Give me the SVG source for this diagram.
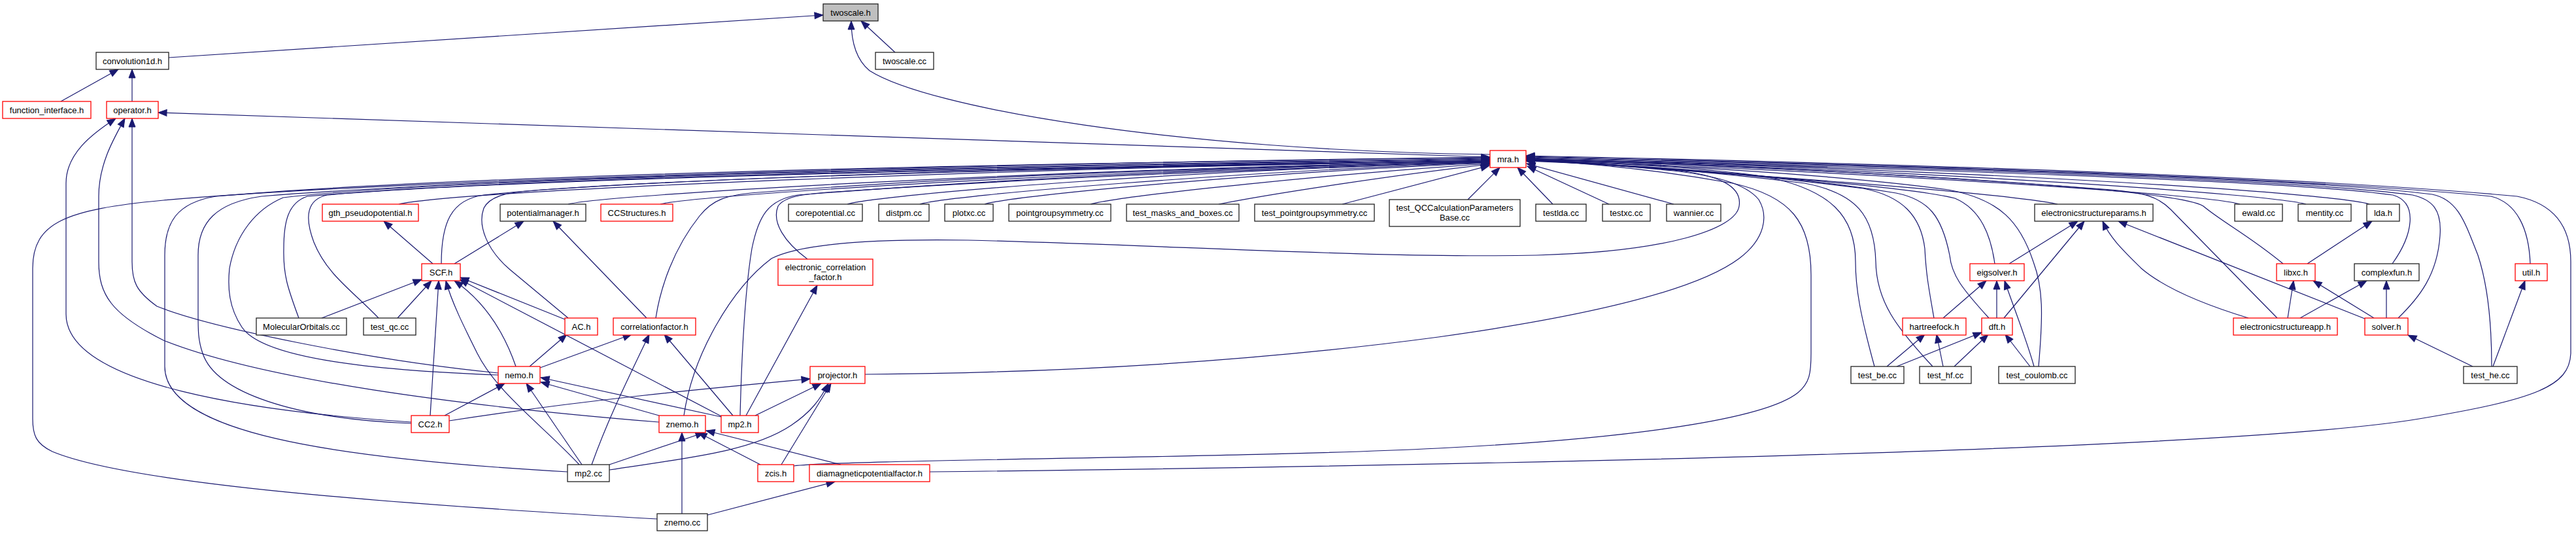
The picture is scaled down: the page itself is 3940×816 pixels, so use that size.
<svg xmlns="http://www.w3.org/2000/svg" width="3940" height="816" viewBox="0 0 3940 816">
<defs>
<marker id="ah" markerUnits="userSpaceOnUse" markerWidth="15" markerHeight="12" refX="13" refY="5" orient="auto" overflow="visible">
<path d="M0,0 L13,5 L0,10 z" fill="#191970" stroke="#191970" stroke-width="1"/>
</marker>
<style>
.node rect{fill:#ffffff;stroke-width:1.3}
.red rect{stroke:#ff0000}
.blk rect{stroke:#222222}
.focus rect{fill:#bfbfbf;stroke:#222222}
.node text{font-family:"Liberation Sans",Arial,sans-serif;font-size:13px;fill:#000000;text-anchor:middle}
#edges path{fill:none;stroke:#191970;stroke-width:1.2;marker-end:url(#ah)}
</style>
</defs>
<rect x="0" y="0" width="3940" height="816" fill="#ffffff"/>
<g id="edges">
<path d="M258,88 L1259,23"/>
<path d="M1369,80 L1317,32"/>
<path d="M2279,236 C1800,230 1420,165 1330,108 C1308,90 1302,60 1302,32"/>
<path d="M93,155 L181,106"/>
<path d="M202,155 L202,106"/>
<path d="M2279,240 C1700,222 700,186 242,172"/>
<path d="M629,645 C400,630 101,590 101,480 L101,280 C101,235 140,205 177,181"/>
<path d="M1008,645 C700,620 400,580 250,520 C170,480 151,450 151,400 L151,300 C151,250 175,210 191,181"/>
<path d="M762,570 C560,550 320,500 240,468 C208,445 202,430 202,400 L202,181"/>
<path d="M1005,793 C600,770 200,740 80,690 C55,678 50,665 50,640 L50,410 C50,340 100,320 250,306 C600,275 1500,250 2279,240"/>
<path d="M868,721 C500,700 252,660 252,560 L252,390 C252,340 270,310 330,300 C700,268 1500,250 2279,241"/>
<path d="M629,647 C450,640 330,600 310,540 C303,520 303,505 303,480 L303,390 C303,340 330,310 400,300 C800,268 1600,252 2279,242"/>
<path d="M762,573 C550,565 400,545 370,500 C350,470 348,440 351,410 C360,360 390,320 433,302 C700,270 1600,253 2279,243"/>
<path d="M457,486 C440,440 433,420 434,380 C434,340 440,310 470,300 C800,270 1600,255 2279,244"/>
<path d="M579,486 C540,445 500,420 480,370 C465,330 470,305 500,298 C800,272 1600,256 2279,245"/>
<path d="M610,312 C700,290 1600,255 2279,246"/>
<path d="M675,403 C675,340 690,305 740,298 C1000,270 1700,255 2279,246"/>
<path d="M662,403 L587,338"/>
<path d="M695,403 L801,338"/>
<path d="M869,312 C920,298 1600,258 2279,247"/>
<path d="M1010,312 C1060,298 1700,258 2279,247"/>
<path d="M1296,312 C1340,298 1800,260 2279,248"/>
<path d="M1407,312 C1450,298 1900,262 2279,248"/>
<path d="M1506,312 C1550,298 1950,262 2279,249"/>
<path d="M1668,312 C1720,298 2050,265 2279,250"/>
<path d="M1864,312 C1950,295 2150,265 2279,251"/>
<path d="M2053,312 L2278,253"/>
<path d="M2245,305 L2294,256"/>
<path d="M2375,312 L2321,256"/>
<path d="M2461,312 L2336,254"/>
<path d="M2560,312 L2335,250"/>
<path d="M3147,312 C3050,292 2600,262 2334,244"/>
<path d="M3426,312 C3380,298 2900,265 2334,244"/>
<path d="M3527,312 C3480,298 3000,262 2334,243"/>
<path d="M3624,312 C3580,297 3100,262 2334,243"/>
<path d="M3492,403 C3440,360 3400,340 3370,315 C3330,290 2900,262 2334,243"/>
<path d="M3659,403 C3690,360 3700,310 3660,298 C3500,275 2900,258 2334,242"/>
<path d="M3668,486 C3700,455 3728,420 3732,360 C3735,320 3720,305 3690,298 C3500,272 2900,256 2334,241"/>
<path d="M3811,560 C3811,470 3800,420 3790,390 C3770,340 3760,305 3720,297 C3500,270 2900,254 2334,240"/>
<path d="M3870,403 C3868,350 3850,310 3810,300 C3500,270 2900,252 2334,239"/>
<path d="M1422,721 C2200,712 3400,690 3700,640 C3880,610 3930,590 3932,540 L3932,400 C3932,340 3900,310 3850,300 C3500,268 2900,250 2334,238"/>
<path d="M3483,486 L3320,320 C3300,300 3280,295 3230,290 C2900,265 2600,250 2334,244"/>
<path d="M2867,560 C2845,480 2838,440 2838,400 C2838,330 2800,290 2700,270 C2600,255 2450,248 2334,246"/>
<path d="M2956,560 C2900,500 2870,460 2869,400 C2867,330 2840,295 2760,280 C2600,260 2450,250 2334,246"/>
<path d="M2958,486 C2950,440 2946,420 2944,380 C2938,330 2910,300 2850,288 C2650,262 2450,250 2334,245"/>
<path d="M3042,486 C3000,440 2985,420 2982,390 C2970,330 2950,305 2900,295 C2700,262 2450,250 2334,245"/>
<path d="M3051,403 C3045,360 3030,320 2990,303 C2900,280 2500,255 2334,244"/>
<path d="M3118,560 C3125,480 3125,440 3110,400 C3090,340 3060,305 2980,290 C2800,265 2500,250 2334,244"/>
<path d="M1214,712 C1300,702 1900,700 2200,685 C2500,670 2700,640 2750,600 C2768,585 2770,570 2770,540 L2770,420 C2770,340 2740,300 2650,280 C2550,262 2450,250 2334,245"/>
<path d="M1046,635 C1060,540 1120,440 1180,395 C1230,370 1350,365 1480,367 C1800,375 2100,395 2350,390 C2550,385 2655,350 2660,315 C2665,285 2630,267 2560,260 C2480,252 2400,247 2334,243"/>
<path d="M1323,572 C1600,570 1900,555 2200,515 C2450,480 2600,440 2660,395 C2700,365 2705,330 2690,305 C2670,280 2620,268 2560,261 C2480,253 2400,247 2334,242"/>
<path d="M989,486 L846,338"/>
<path d="M869,486 L780,412 C745,382 730,345 740,318 C750,298 780,293 830,290 C1200,265 1800,252 2279,246"/>
<path d="M1003,486 C1010,440 1030,380 1070,330 C1090,305 1110,298 1160,294 C1500,268 1900,254 2279,247"/>
<path d="M1132,635 C1135,520 1140,440 1150,380 C1160,330 1175,305 1220,298 C1600,268 1950,255 2279,248"/>
<path d="M1235,396 C1200,370 1180,340 1190,315 C1200,300 1230,296 1280,293 C1650,268 2000,256 2279,248"/>
<path d="M1141,635 L1250,436"/>
<path d="M492,486 L645,427"/>
<path d="M608,486 L660,429"/>
<path d="M658,635 L671,429"/>
<path d="M886,710 C830,650 760,600 730,540 C710,500 690,460 682,429"/>
<path d="M789,560 C770,505 740,460 695,429"/>
<path d="M864,488 L704,424"/>
<path d="M1103,636 L703,427"/>
<path d="M810,560 L867,511"/>
<path d="M826,562 L966,511"/>
<path d="M905,710 C930,640 960,580 993,511"/>
<path d="M1121,635 L1016,511"/>
<path d="M680,635 L772,586"/>
<path d="M890,710 L805,586"/>
<path d="M1008,635 L827,584"/>
<path d="M1103,637 L827,577"/>
<path d="M687,643 C900,610 1100,592 1239,579"/>
<path d="M1155,635 L1256,586"/>
<path d="M932,718 C1050,700 1150,690 1210,650 C1240,630 1255,610 1267,586"/>
<path d="M1195,710 L1271,586"/>
<path d="M932,710 L1077,661"/>
<path d="M1163,710 L1068,661"/>
<path d="M1286,710 L1080,658"/>
<path d="M1043,785 L1043,661"/>
<path d="M1082,787 L1277,736"/>
<path d="M3529,403 L3628,338"/>
<path d="M3499,486 L3508,429"/>
<path d="M3631,486 L3538,429"/>
<path d="M3518,486 L3620,429"/>
<path d="M3650,486 L3650,429"/>
<path d="M3782,560 L3683,512"/>
<path d="M3813,560 L3862,429"/>
<path d="M3073,403 L3178,338"/>
<path d="M3065,486 L3188,338"/>
<path d="M3439,486 C3370,465 3310,440 3275,410 C3250,385 3228,365 3216,338"/>
<path d="M3617,487 L3240,338"/>
<path d="M2972,486 L3038,429"/>
<path d="M3054,486 L3054,429"/>
<path d="M3111,560 C3100,520 3080,470 3066,429"/>
<path d="M2886,560 L2944,511"/>
<path d="M2972,560 L2962,511"/>
<path d="M2901,560 L3031,508"/>
<path d="M2989,560 L3041,511"/>
<path d="M3105,560 L3067,511"/>
</g>
<g id="n_twoscale_h" class="node focus"><rect x="1259" y="6" width="84" height="26"/><text x="1301" y="23.5">twoscale.h</text></g>
<g id="n_convolution1d_h" class="node blk"><rect x="147" y="80" width="111" height="26"/><text x="202.5" y="97.5">convolution1d.h</text></g>
<g id="n_twoscale_cc" class="node blk"><rect x="1339" y="80" width="89" height="26"/><text x="1383.5" y="97.5">twoscale.cc</text></g>
<g id="n_function_interface_h" class="node red"><rect x="4" y="155" width="135" height="26"/><text x="71.5" y="172.5">function_interface.h</text></g>
<g id="n_operator_h" class="node red"><rect x="163" y="155" width="79" height="26"/><text x="202.5" y="172.5">operator.h</text></g>
<g id="n_mra_h" class="node red"><rect x="2279" y="230" width="55" height="26"/><text x="2306.5" y="247.5">mra.h</text></g>
<g id="n_gth_pseudopotential_h" class="node red"><rect x="493" y="312" width="147" height="26"/><text x="566.5" y="329.5">gth_pseudopotential.h</text></g>
<g id="n_potentialmanager_h" class="node blk"><rect x="765" y="312" width="131" height="26"/><text x="830.5" y="329.5">potentialmanager.h</text></g>
<g id="n_CCStructures_h" class="node red"><rect x="919" y="312" width="110" height="26"/><text x="974" y="329.5">CCStructures.h</text></g>
<g id="n_corepotential_cc" class="node blk"><rect x="1206" y="312" width="113" height="26"/><text x="1262.5" y="329.5">corepotential.cc</text></g>
<g id="n_distpm_cc" class="node blk"><rect x="1344" y="312" width="77" height="26"/><text x="1382.5" y="329.5">distpm.cc</text></g>
<g id="n_plotxc_cc" class="node blk"><rect x="1445" y="312" width="74" height="26"/><text x="1482" y="329.5">plotxc.cc</text></g>
<g id="n_pointgroupsymmetry_cc" class="node blk"><rect x="1543" y="312" width="156" height="26"/><text x="1621" y="329.5">pointgroupsymmetry.cc</text></g>
<g id="n_test_masks_and_boxes_cc" class="node blk"><rect x="1723" y="312" width="172" height="26"/><text x="1809" y="329.5">test_masks_and_boxes.cc</text></g>
<g id="n_test_pointgroupsymmetry_cc" class="node blk"><rect x="1919" y="312" width="183" height="26"/><text x="2010.5" y="329.5">test_pointgroupsymmetry.cc</text></g>
<g id="n_test_QCCalculationParametersBase_cc" class="node blk"><rect x="2125" y="305" width="200" height="41"/><text x="2225" y="321.5">test_QCCalculationParameters</text><text x="2225" y="336.5">Base.cc</text></g>
<g id="n_testlda_cc" class="node blk"><rect x="2349" y="312" width="77" height="26"/><text x="2387.5" y="329.5">testlda.cc</text></g>
<g id="n_testxc_cc" class="node blk"><rect x="2451" y="312" width="73" height="26"/><text x="2487.5" y="329.5">testxc.cc</text></g>
<g id="n_wannier_cc" class="node blk"><rect x="2549" y="312" width="83" height="26"/><text x="2590.5" y="329.5">wannier.cc</text></g>
<g id="n_electronicstructureparams_h" class="node blk"><rect x="3112" y="312" width="181" height="26"/><text x="3202.5" y="329.5">electronicstructureparams.h</text></g>
<g id="n_ewald_cc" class="node blk"><rect x="3418" y="312" width="73" height="26"/><text x="3454.5" y="329.5">ewald.cc</text></g>
<g id="n_mentity_cc" class="node blk"><rect x="3515" y="312" width="81" height="26"/><text x="3555.5" y="329.5">mentity.cc</text></g>
<g id="n_lda_h" class="node blk"><rect x="3620" y="312" width="50" height="26"/><text x="3645" y="329.5">lda.h</text></g>
<g id="n_SCF_h" class="node red"><rect x="645" y="403" width="59" height="26"/><text x="674.5" y="420.5">SCF.h</text></g>
<g id="n_electronic_correlation_factor_h" class="node red"><rect x="1190" y="396" width="145" height="40"/><text x="1262.5" y="413">electronic_correlation</text><text x="1262.5" y="428">_factor.h</text></g>
<g id="n_eigsolver_h" class="node red"><rect x="3013" y="403" width="83" height="26"/><text x="3054.5" y="420.5">eigsolver.h</text></g>
<g id="n_libxc_h" class="node red"><rect x="3482" y="403" width="59" height="26"/><text x="3511.5" y="420.5">libxc.h</text></g>
<g id="n_complexfun_h" class="node blk"><rect x="3601" y="403" width="99" height="26"/><text x="3650.5" y="420.5">complexfun.h</text></g>
<g id="n_util_h" class="node red"><rect x="3847" y="403" width="49" height="26"/><text x="3871.5" y="420.5">util.h</text></g>
<g id="n_MolecularOrbitals_cc" class="node blk"><rect x="392" y="486" width="138" height="26"/><text x="461" y="503.5">MolecularOrbitals.cc</text></g>
<g id="n_test_qc_cc" class="node blk"><rect x="556" y="486" width="80" height="26"/><text x="596" y="503.5">test_qc.cc</text></g>
<g id="n_AC_h" class="node red"><rect x="864" y="486" width="50" height="26"/><text x="889" y="503.5">AC.h</text></g>
<g id="n_correlationfactor_h" class="node red"><rect x="938" y="486" width="126" height="26"/><text x="1001" y="503.5">correlationfactor.h</text></g>
<g id="n_hartreefock_h" class="node red"><rect x="2910" y="486" width="97" height="26"/><text x="2958.5" y="503.5">hartreefock.h</text></g>
<g id="n_dft_h" class="node red"><rect x="3031" y="486" width="47" height="26"/><text x="3054.5" y="503.5">dft.h</text></g>
<g id="n_electronicstructureapp_h" class="node red"><rect x="3416" y="486" width="159" height="26"/><text x="3495.5" y="503.5">electronicstructureapp.h</text></g>
<g id="n_solver_h" class="node red"><rect x="3617" y="486" width="66" height="26"/><text x="3650" y="503.5">solver.h</text></g>
<g id="n_nemo_h" class="node red"><rect x="762" y="560" width="64" height="26"/><text x="794" y="577.5">nemo.h</text></g>
<g id="n_projector_h" class="node red"><rect x="1239" y="560" width="84" height="26"/><text x="1281" y="577.5">projector.h</text></g>
<g id="n_test_be_cc" class="node blk"><rect x="2831" y="560" width="81" height="26"/><text x="2871.5" y="577.5">test_be.cc</text></g>
<g id="n_test_hf_cc" class="node blk"><rect x="2936" y="560" width="79" height="26"/><text x="2975.5" y="577.5">test_hf.cc</text></g>
<g id="n_test_coulomb_cc" class="node blk"><rect x="3057" y="560" width="117" height="26"/><text x="3115.5" y="577.5">test_coulomb.cc</text></g>
<g id="n_test_he_cc" class="node blk"><rect x="3768" y="560" width="82" height="26"/><text x="3809" y="577.5">test_he.cc</text></g>
<g id="n_CC2_h" class="node red"><rect x="629" y="635" width="58" height="26"/><text x="658" y="652.5">CC2.h</text></g>
<g id="n_znemo_h" class="node red"><rect x="1008" y="635" width="71" height="26"/><text x="1043.5" y="652.5">znemo.h</text></g>
<g id="n_mp2_h" class="node red"><rect x="1103" y="635" width="57" height="26"/><text x="1131.5" y="652.5">mp2.h</text></g>
<g id="n_mp2_cc" class="node blk"><rect x="868" y="710" width="64" height="26"/><text x="900" y="727.5">mp2.cc</text></g>
<g id="n_zcis_h" class="node red"><rect x="1159" y="710" width="55" height="26"/><text x="1186.5" y="727.5">zcis.h</text></g>
<g id="n_diamagneticpotentialfactor_h" class="node red"><rect x="1238" y="710" width="184" height="26"/><text x="1330" y="727.5">diamagneticpotentialfactor.h</text></g>
<g id="n_znemo_cc" class="node blk"><rect x="1005" y="785" width="77" height="26"/><text x="1043.5" y="802.5">znemo.cc</text></g>
</svg>
